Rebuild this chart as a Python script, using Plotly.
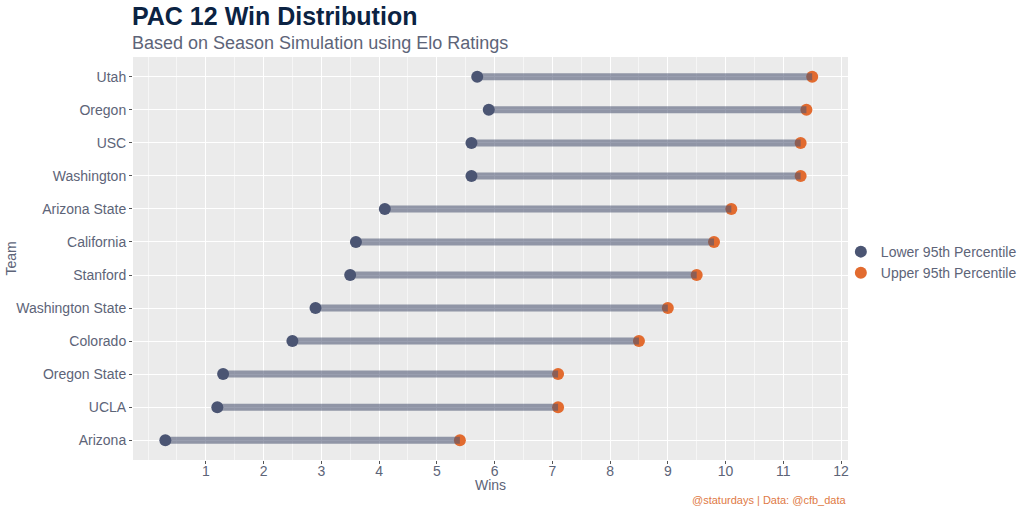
import plotly.graph_objects as go

teams = ["Utah", "Oregon", "USC", "Washington", "Arizona State", "California",
         "Stanford", "Washington State", "Colorado", "Oregon State", "UCLA", "Arizona"]
lower_95 = [5.7, 5.9, 5.6, 5.6, 4.1, 3.6, 3.5, 2.9, 2.5, 1.3, 1.2, 0.3]
upper_95 = [11.5, 11.4, 11.3, 11.3, 10.1, 9.8, 9.5, 9.0, 8.5, 7.1, 7.1, 5.4]
x_ticks = list(range(1, 13))

FONT = "Liberation Sans, Arial, Helvetica, sans-serif"
TXT = "#5d6478"
LOW_C = "#4b5573"
UP_C = "#e26b2f"
SEG_C = "rgba(75,85,115,0.57)"

seg_x, seg_y = [], []
for t, lo, hi in zip(teams, lower_95, upper_95):
    seg_x += [lo, hi, None]
    seg_y += [t, t, None]

fig = go.Figure()
fig.add_trace(go.Scatter(x=upper_95, y=teams, mode="markers", name="Upper 95th Percentile",
                         marker=dict(color=UP_C, size=12), legendrank=2, cliponaxis=False))
fig.add_trace(go.Scatter(x=seg_x, y=seg_y, mode="lines", line=dict(color=SEG_C, width=7),
                         showlegend=False, hoverinfo="skip"))
fig.add_trace(go.Scatter(x=lower_95, y=teams, mode="markers", name="Lower 95th Percentile",
                         marker=dict(color=LOW_C, size=12), legendrank=1, cliponaxis=False))

fig.update_layout(
    width=1024, height=512,
    margin=dict(l=133, r=176, t=57, b=52, autoexpand=False),
    paper_bgcolor="white", plot_bgcolor="#ebebeb",
    font=dict(family=FONT, color=TXT, size=14),
    showlegend=True,
    legend=dict(x=0.99, xref="paper", y=0.49, xanchor="left", yanchor="middle",
                font=dict(size=14, color=TXT), bgcolor="rgba(0,0,0,0)",
                itemsizing="constant", tracegroupgap=0, itemwidth=30),
    xaxis=dict(range=[-0.26, 12.12], tickvals=x_ticks, ticktext=[str(v) for v in x_ticks],
               showgrid=True, gridcolor="white", gridwidth=1.1, zeroline=False,
               ticks="outside", ticklen=3, tickcolor="#555555", tickwidth=1,
               tickfont=dict(size=14, color=TXT), automargin=False, ticklabelstandoff=-5,
               minor=dict(dtick=0.5, tick0=0, showgrid=True, gridcolor="#f6f6f6", gridwidth=0.5, ticks=""),
               showline=False),
    yaxis=dict(type="category", categoryorder="array", categoryarray=teams[::-1],
               range=[-0.6, 11.6], showgrid=True, gridcolor="white", gridwidth=1.1,
               ticks="outside", ticklen=3, tickcolor="#555555", tickwidth=1,
               tickfont=dict(size=14, color=TXT), automargin=False,
               showline=False),
    annotations=[
        dict(text="<b>PAC 12 Win Distribution</b>", xref="paper", yref="paper",
             x=0, y=1, yshift=41, xanchor="left", yanchor="middle", showarrow=False,
             xshift=-3, font=dict(size=25, color="#0b2343", family=FONT)),
        dict(text="Based on Season Simulation using Elo Ratings", xref="paper", yref="paper",
             x=0, y=1, yshift=14, xanchor="left", yanchor="middle", showarrow=False,
             xshift=-3, font=dict(size=18, color=TXT, family=FONT)),
        dict(text="Wins", xref="paper", yref="paper", x=0.5, y=0, yshift=-25,
             xanchor="center", yanchor="middle", showarrow=False,
             font=dict(size=14, color=TXT, family=FONT)),
        dict(text="Team", xref="paper", yref="paper", x=0, y=0.5, xshift=-123,
             xanchor="center", yanchor="middle", textangle=-90, showarrow=False,
             font=dict(size=14, color=TXT, family=FONT)),
        dict(text="@staturdays | Data: @cfb_data", xref="paper", yref="paper",
             x=1, y=0, yshift=-40, xanchor="right", yanchor="middle", showarrow=False,
             font=dict(size=11, color="#e07a45", family=FONT)),
    ],
)

fig.write_html("out.html", config={"displayModeBar": False},
               post_script="document.body.style.margin='0';")
